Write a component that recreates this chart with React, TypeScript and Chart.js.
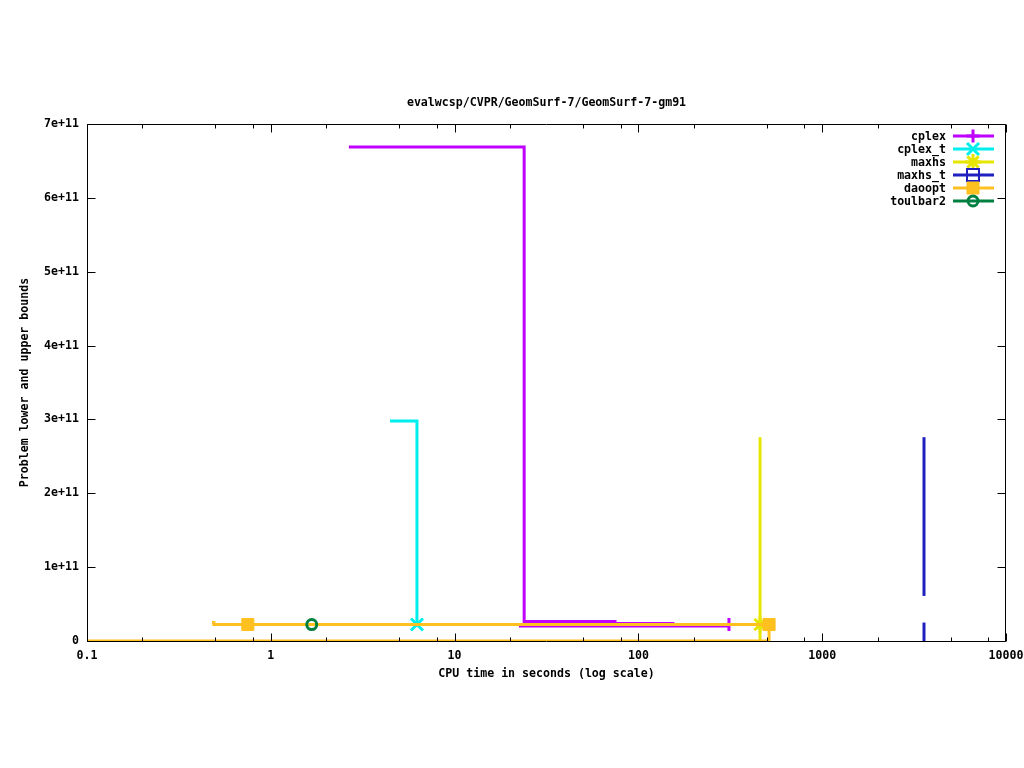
import React, { useEffect, useRef } from 'react';
import { Chart, registerables } from 'chart.js';
import { drawPoint } from 'chart.js/helpers';

Chart.register(...registerables);

// ---------- text ----------
const TITLE = 'evalwcsp/CVPR/GeomSurf-7/GeomSurf-7-gm91';
const X_LABEL = 'CPU time in seconds (log scale)';
const Y_LABEL = 'Problem lower and upper bounds';

// ---------- ticks ----------
const xTickValues = [0.1, 1, 10, 100, 1000, 10000];
const xTickLabels = ['0.1', '1', '10', '100', '1000', '10000'];
const xMinorFactors = [2, 5, 8];
const yTickValues = [0, 1e11, 2e11, 3e11, 4e11, 5e11, 6e11, 7e11];
const yTickLabels = ['0', '1e+11', '2e+11', '3e+11', '4e+11', '5e+11', '6e+11', '7e+11'];

// ---------- series ----------
const seriesNames = ['cplex', 'cplex_t', 'maxhs', 'maxhs_t', 'daoopt', 'toulbar2'];

// cplex
const cplexUbX = [2.66, 23.9, 74.6, 154, 311];
const cplexUbY = [6.69e11, 2.64e10, 2.37e10, 2.24e10, 2.24e10];
const cplexUbMarks = [4];
const cplexLbX = [22.4, 311];
const cplexLbY = [2.03e10, 2.03e10];
// cplex_t
const cplexTUbX = [4.45, 6.24];
const cplexTUbY = [2.98e11, 2.23e10];
const cplexTUbMarks = [1];
// maxhs
const maxhsUbX = [459, 459];
const maxhsUbY = [2.76e11, 2.23e10];
const maxhsUbMarks = [1];
const maxhsLbX = [459, 459];
const maxhsLbY = [0, 2.23e10];
// maxhs_t
const maxhsTUbX = [3580, 3580];
const maxhsTUbY = [2.76e11, 6.1e10];
const maxhsTLbX = [3580, 3580];
const maxhsTLbY = [0, 2.5e10];
// daoopt
const daooptUbX = [0.479, 0.49, 0.75, 514];
const daooptUbY = [2.5e10, 2.23e10, 2.23e10, 2.23e10];
const daooptUbMarks = [2, 3];
const daooptLbX = [0.1, 514];
const daooptLbY = [0, 2.23e10];
// toulbar2
const toulbar2X = [1.67];
const toulbar2Y = [2.23e10];
const toulbar2Marks = [0];

// ---------- styles ----------
const FONT_FAMILY = '"DejaVu Sans Mono", "Liberation Mono", monospace';
const FONT_SIZE = 11.6;

type Sty = { color: string; pointStyle: string; radius: number; pw: number; fill: boolean };
const styles: Record<string, Sty> = {
  cplex: { color: '#c000ff', pointStyle: 'cross', radius: 6.5, pw: 3, fill: false },
  cplex_t: { color: '#00eeee', pointStyle: 'crossRot', radius: 8.5, pw: 3, fill: false },
  maxhs: { color: '#e6e600', pointStyle: 'star', radius: 8, pw: 3, fill: false },
  maxhs_t: { color: '#2020c0', pointStyle: 'rect', radius: 8.5, pw: 2, fill: false },
  daoopt: { color: '#ffc020', pointStyle: 'rect', radius: 8.5, pw: 1, fill: true },
  toulbar2: { color: '#008040', pointStyle: 'circle', radius: 5, pw: 3, fill: false },
};

function pts(xs: number[], ys: number[]) {
  return xs.map((x, i) => ({ x, y: ys[i] }));
}

function makeDataset(name: string, xs: number[], ys: number[], marks: number[], rank: number) {
  const s = styles[name];
  return {
    label: name,
    data: pts(xs, ys),
    borderColor: s.color,
    backgroundColor: s.color,
    borderWidth: 3,
    stepped: true,
    pointStyle: s.pointStyle,
    pointRadius: (ctx: any) => (marks.includes(ctx.dataIndex) ? s.radius : 0),
    pointHoverRadius: 0,
    pointHitRadius: 0,
    pointBorderWidth: s.pw,
    pointBorderColor: s.color,
    pointBackgroundColor: s.fill ? s.color : 'rgba(0,0,0,0)',
    order: 100 - rank,
  };
}

const framePlugin = {
  id: 'gnuplotFrame',
  afterDatasetsDraw(chart: any) {
    const { ctx, chartArea } = chart;
    const { left, right, top, bottom } = chartArea;
    const xs = chart.scales.x;
    const ys = chart.scales.y;
    ctx.save();
    ctx.strokeStyle = '#000';
    ctx.lineWidth = 1;
    const L = Math.round(left) + 0.5;
    const R = Math.round(right) - 0.5;
    const T = Math.round(top) + 0.5;
    const B = Math.round(bottom) + 0.5;
    ctx.beginPath();
    ctx.rect(L, T, R - L, B - T);
    yTickValues.forEach((v) => {
      const y = Math.round(ys.getPixelForValue(v)) + 0.5;
      ctx.moveTo(L, y); ctx.lineTo(L + 8, y);
      ctx.moveTo(R, y); ctx.lineTo(R - 8, y);
    });
    xTickValues.forEach((v, i) => {
      const x = Math.round(xs.getPixelForValue(v)) + 0.5;
      ctx.moveTo(x, B); ctx.lineTo(x, B - 8);
      ctx.moveTo(x, T); ctx.lineTo(x, T + 8);
      if (i < xTickValues.length - 1) {
        xMinorFactors.forEach((f) => {
          const mx = Math.round(xs.getPixelForValue(v * f)) + 0.5;
          ctx.moveTo(mx, B); ctx.lineTo(mx, B - 4);
          ctx.moveTo(mx, T); ctx.lineTo(mx, T + 4);
        });
      }
    });
    ctx.stroke();
    ctx.restore();
  },
  afterDraw(chart: any) {
    const { ctx, chartArea } = chart;
    const cx = (chartArea.left + chartArea.right) / 2;
    const cy = (chartArea.top + chartArea.bottom) / 2;
    ctx.save();
    ctx.fillStyle = '#000';
    ctx.font = `bold ${FONT_SIZE}px ${FONT_FAMILY}`;
    ctx.textAlign = 'center';
    ctx.textBaseline = 'middle';
    ctx.fillText(TITLE, cx, 103);
    ctx.fillText(X_LABEL, cx, 674);
    ctx.save();
    ctx.translate(25, cy);
    ctx.rotate(-Math.PI / 2);
    ctx.fillText(Y_LABEL, 0, 0);
    ctx.restore();

    // legend
    const textRight = 946;
    const lineL = 953;
    const lineR = 994;
    const mx = 973;
    seriesNames.forEach((name, i) => {
      const s = styles[name];
      const y = 136 + i * 13;
      ctx.fillStyle = '#000';
      ctx.textAlign = 'right';
      ctx.fillText(name, textRight, y + 0.5);
      ctx.strokeStyle = s.color;
      ctx.lineWidth = 3;
      ctx.beginPath();
      ctx.moveTo(lineL, y);
      ctx.lineTo(lineR, y);
      ctx.stroke();
      ctx.lineWidth = s.pw;
      ctx.fillStyle = s.fill ? s.color : 'rgba(0,0,0,0)';
      drawPoint(ctx, { pointStyle: s.pointStyle, radius: s.radius, rotation: 0, borderWidth: s.pw } as any, mx, y);
    });
    ctx.restore();
  },
};

export default function App() {
  const ref = useRef<HTMLCanvasElement | null>(null);
  useEffect(() => {
    if (!ref.current) return;
    const font = { family: FONT_FAMILY, size: FONT_SIZE, weight: 'bold' as const };
    const datasets = [
      makeDataset('cplex', cplexUbX, cplexUbY, cplexUbMarks, 0),
      makeDataset('cplex', cplexLbX, cplexLbY, [], 0),
      makeDataset('cplex_t', cplexTUbX, cplexTUbY, cplexTUbMarks, 1),
      makeDataset('maxhs', maxhsUbX, maxhsUbY, maxhsUbMarks, 2),
      makeDataset('maxhs', maxhsLbX, maxhsLbY, [], 2),
      makeDataset('maxhs_t', maxhsTUbX, maxhsTUbY, [], 3),
      makeDataset('maxhs_t', maxhsTLbX, maxhsTLbY, [], 3),
      makeDataset('daoopt', daooptUbX, daooptUbY, daooptUbMarks, 4),
      makeDataset('daoopt', daooptLbX, daooptLbY, [], 4),
      makeDataset('toulbar2', toulbar2X, toulbar2Y, toulbar2Marks, 5),
    ];
    const chart = new Chart(ref.current, {
      type: 'line',
      data: { datasets: datasets as any },
      options: {
        animation: false,
        responsive: false,
        devicePixelRatio: 1,
        parsing: false as any,
        layout: { padding: { left: 0, right: 18, top: 124, bottom: 0 } },
        plugins: {
          legend: { display: false },
          title: { display: false },
          tooltip: { enabled: false },
        },
        scales: {
          x: {
            type: 'logarithmic',
            min: 0.1,
            max: 10000,
            grid: { display: false, drawTicks: false },
            border: { display: false },
            ticks: {
              autoSkip: false,
              maxRotation: 0,
              minRotation: 0,
              padding: 8,
              color: '#000',
              font,
              callback: (_v: any, i: number) => xTickLabels[i],
            },
            afterBuildTicks: (s: any) => {
              s.ticks = xTickValues.map((v) => ({ value: v }));
            },
            afterFit: (s: any) => {
              s.height = 127;
              s.paddingLeft = 0;
              s.paddingRight = 0;
            },
          } as any,
          y: {
            type: 'linear',
            min: 0,
            max: 7e11,
            grid: { display: false, drawTicks: false },
            border: { display: false },
            ticks: {
              stepSize: 1e11,
              padding: 8,
              color: '#000',
              font,
              callback: (_v: any, i: number) => yTickLabels[i],
            },
            afterFit: (s: any) => {
              s.width = 87;
              s.paddingTop = 0;
              s.paddingBottom = 0;
            },
          } as any,
        },
      },
      plugins: [framePlugin],
    });
    return () => chart.destroy();
  }, []);
  return (
    <div style={{ position: 'absolute', left: 0, top: 0, width: 1024, height: 768, background: '#fff' }}>
      <canvas ref={ref} width={1024} height={768} style={{ display: 'block', width: 1024, height: 768 }} />
    </div>
  );
}
